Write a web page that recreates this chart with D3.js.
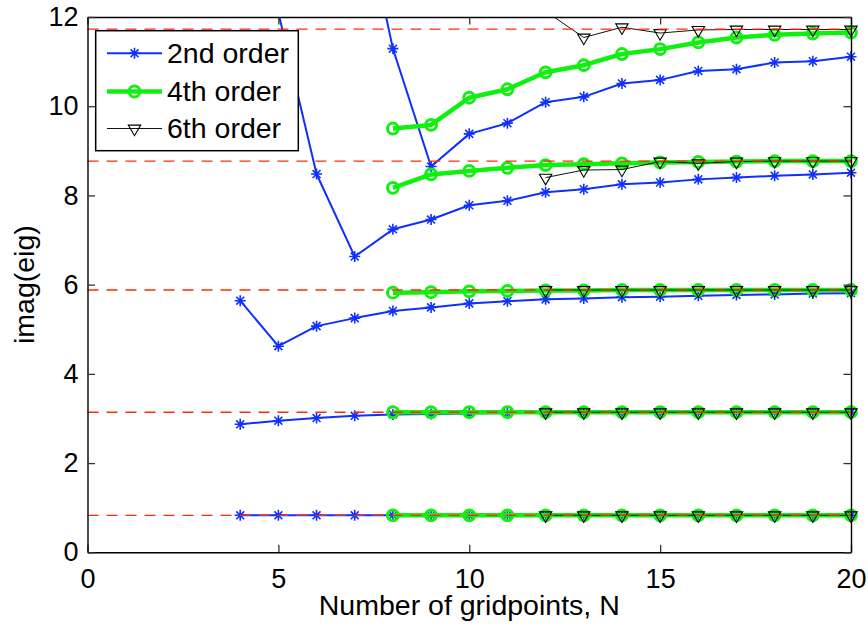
<!DOCTYPE html>
<html>
<head>
<meta charset="utf-8">
<script src="https://cdn.jsdelivr.net/npm/d3@7"></script>
<style>
  body { margin: 0; background: #fff; }
  svg { display: block; }
  text { font-family: "Liberation Sans", Arial, Helvetica, sans-serif; fill: #000; }
</style>
</head>
<body>
<svg id="chart" width="868" height="626"></svg>
<script>
// Grid sizes used for each scheme
const nSecond = [4, 5, 6, 7, 8, 9, 10, 11, 12, 13, 14, 15, 16, 17, 18, 19, 20];
const nFourth = [8, 9, 10, 11, 12, 13, 14, 15, 16, 17, 18, 19, 20];
const nSixth = [12, 13, 14, 15, 16, 17, 18, 19, 20];

// 2nd order scheme: imaginary parts of the first five eigenvalues (null = not computed)
const second1 = [0.83, 0.83, 0.83, 0.83, 0.83, 0.83, 0.83, 0.83, 0.83, 0.83, 0.83, 0.83, 0.83, 0.83, 0.83, 0.83, 0.83];
const second2 = [2.87, 2.95, 3.01, 3.06, 3.09, 3.10, 3.11, 3.12, 3.12, 3.13, 3.13, 3.13, 3.13, 3.14, 3.14, 3.14, 3.14];
const second3 = [5.64, 4.62, 5.07, 5.25, 5.41, 5.49, 5.58, 5.63, 5.67, 5.69, 5.72, 5.73, 5.75, 5.77, 5.78, 5.80, 5.81];
const second4 = [null, 12.1, 8.48, 6.63, 7.24, 7.46, 7.78, 7.88, 8.07, 8.14, 8.25, 8.29, 8.36, 8.40, 8.44, 8.47, 8.51];
const second5 = [null, null, null, 15.3, 11.29, 8.65, 9.38, 9.62, 10.09, 10.21, 10.51, 10.59, 10.79, 10.83, 10.98, 11.01, 11.11];

// 4th order scheme
const fourth1 = [0.83, 0.83, 0.83, 0.83, 0.83, 0.83, 0.83, 0.83, 0.83, 0.83, 0.83, 0.83, 0.83];
const fourth2 = [3.14, 3.14, 3.14, 3.14, 3.14, 3.14, 3.14, 3.14, 3.14, 3.14, 3.14, 3.14, 3.14];
const fourth3 = [5.82, 5.83, 5.85, 5.86, 5.87, 5.87, 5.88, 5.88, 5.88, 5.88, 5.88, 5.88, 5.88];
const fourth4 = [8.17, 8.47, 8.55, 8.62, 8.68, 8.70, 8.72, 8.74, 8.75, 8.76, 8.77, 8.77, 8.77];
const fourth5 = [9.50, 9.58, 10.19, 10.38, 10.76, 10.92, 11.17, 11.28, 11.43, 11.54, 11.60, 11.63, 11.65];

// 6th order scheme
const sixth1 = [0.83, 0.83, 0.83, 0.83, 0.83, 0.83, 0.83, 0.83, 0.83];
const sixth2 = [3.14, 3.14, 3.14, 3.14, 3.14, 3.14, 3.14, 3.14, 3.14];
const sixth3 = [5.88, 5.88, 5.88, 5.88, 5.88, 5.88, 5.88, 5.88, 5.88];
const sixth4 = [8.40, 8.57, 8.58, 8.76, 8.72, 8.76, 8.77, 8.77, 8.77];
const sixth5 = [12.13, 11.54, 11.77, 11.64, 11.71, 11.72, 11.72, 11.72, 11.72];

// Exact eigenvalues (reference lines)
const exactValues = [0.83, 3.14, 5.88, 8.77, 11.73];

// Axis ticks and labels
const xTicks = [0, 5, 10, 15, 20];
const yTicks = [0, 2, 4, 6, 8, 10, 12];
const seriesNames = ["2nd order", "4th order", "6th order"];
const xLabel = "Number of gridpoints, N";
const yLabel = "imag(eig)";

const svg = d3.select("#chart");
const pLeft = 87.5, pRight = 851, pTop = 17, pBottom = 552.3;
const x = d3.scaleLinear().domain([0, 20]).range([pLeft, pRight]);
const y = d3.scaleLinear().domain([0, 12]).range([pBottom, pTop]);

const blue = "#1030ff", green = "#10f010", black = "#000", red = "#ff2a00";

svg.append("defs").append("clipPath").attr("id", "plotClip")
  .append("rect").attr("x", pLeft).attr("y", pTop)
  .attr("width", pRight - pLeft).attr("height", pBottom - pTop);

// Marker shapes
const s = 5.5, dg = s * 0.72;
const starPath = `M${-s},0H${s}M0,${-s}V${s}M${-dg},${-dg}L${dg},${dg}M${-dg},${dg}L${dg},${-dg}`;
const triPath = "M-6.2,-3.4L6.2,-3.4L0,7.2Z";

const schemes = [
  { name: seriesNames[0], n: nSecond, branches: [second1, second2, second3, second4, second5],
    color: blue, width: 2, marker: "star" },
  { name: seriesNames[1], n: nFourth, branches: [fourth1, fourth2, fourth3, fourth4, fourth5],
    color: green, width: 4.5, marker: "circle" },
  { name: seriesNames[2], n: nSixth, branches: [sixth1, sixth2, sixth3, sixth4, sixth5],
    color: "#111", width: 1, marker: "tri" }
];

function drawMarker(g, sch, px, py) {
  if (sch.marker === "star") {
    g.append("path").attr("d", starPath).attr("transform", `translate(${px},${py})`)
      .attr("stroke", sch.color).attr("stroke-width", 1.6).attr("fill", "none");
  } else if (sch.marker === "circle") {
    g.append("circle").attr("cx", px).attr("cy", py).attr("r", 5.4)
      .attr("stroke", sch.color).attr("stroke-width", 3).attr("fill", "none");
  } else {
    g.append("path").attr("d", triPath).attr("transform", `translate(${px},${py})`)
      .attr("stroke", black).attr("stroke-width", 1.1).attr("fill", "none");
  }
}

const line = d3.line().defined(d => d.v != null).x(d => x(d.n)).y(d => y(d.v));

const plot = svg.append("g");
schemes.forEach(sch => {
  const g = plot.append("g");
  sch.branches.forEach(vals => {
    const pts = sch.n.map((n, i) => ({ n, v: vals[i] }));
    g.append("path").datum(pts).attr("d", line)
      .attr("clip-path", "url(#plotClip)")
      .attr("fill", "none").attr("stroke", sch.color)
      .attr("stroke-width", sch.width).attr("stroke-linejoin", "round");
    pts.filter(d => d.v != null && d.v <= 12 && d.v >= 0)
      .forEach(d => drawMarker(g, sch, x(d.n), y(d.v)));
  });
});

// Exact eigenvalue reference lines
plot.append("g").selectAll("line").data(exactValues).join("line")
  .attr("x1", x(0)).attr("x2", x(20))
  .attr("y1", d => y(d)).attr("y2", d => y(d))
  .attr("stroke", red).attr("stroke-width", 1.3).attr("stroke-dasharray", "11,8");

// Axes (ticks pointing inward, box on)
const tick = 7.5;
const axisStyle = g => {
  g.select(".domain").attr("stroke", "#000").attr("stroke-width", 1.4);
  g.selectAll(".tick line").attr("stroke", "#333").attr("stroke-width", 1.3);
  g.selectAll(".tick text").style("font-size", "27px").attr("fill", "#000");
};
svg.append("g").attr("transform", `translate(0,${pBottom})`)
  .call(d3.axisBottom(x).tickValues(xTicks).tickSizeInner(-tick).tickSizeOuter(0).tickPadding(16.5))
  .call(axisStyle);
svg.append("g").attr("transform", `translate(0,${pTop})`)
  .call(d3.axisTop(x).tickValues(xTicks).tickSizeInner(-tick).tickSizeOuter(0).tickFormat(""))
  .call(axisStyle);
svg.append("g").attr("transform", `translate(${pLeft},0)`)
  .call(d3.axisLeft(y).tickValues(yTicks).tickSizeInner(-tick).tickSizeOuter(0).tickPadding(9))
  .call(axisStyle);
svg.append("g").attr("transform", `translate(${pRight},0)`)
  .call(d3.axisRight(y).tickValues(yTicks).tickSizeInner(-tick).tickSizeOuter(0).tickFormat(""))
  .call(axisStyle);
svg.selectAll("g[font-family]").attr("font-family", null);

// Axis titles
svg.append("text").attr("x", (pLeft + pRight) / 2).attr("y", 615)
  .attr("text-anchor", "middle").style("font-size", "28.5px").text(xLabel);
svg.append("text").attr("transform", `translate(34,${(pTop + pBottom) / 2}) rotate(-90)`)
  .attr("text-anchor", "middle").style("font-size", "28.5px").text(yLabel);

// Legend
const lg = svg.append("g");
lg.append("rect").attr("x", 95.7).attr("y", 30.7).attr("width", 202.6).attr("height", 120)
  .attr("fill", "#fff").attr("stroke", "#000").attr("stroke-width", 1.5);
const rowY = [53.3, 91.5, 128.5];
schemes.forEach((sch, i) => {
  lg.append("line").attr("x1", 107).attr("x2", 162).attr("y1", rowY[i]).attr("y2", rowY[i])
    .attr("stroke", sch.color).attr("stroke-width", sch.width);
  drawMarker(lg, sch, 134.5, rowY[i]);
  lg.append("text").attr("x", 167).attr("y", rowY[i]).attr("dy", "0.35em")
    .style("font-size", "28.5px").text(sch.name);
});
</script>
</body>
</html>
